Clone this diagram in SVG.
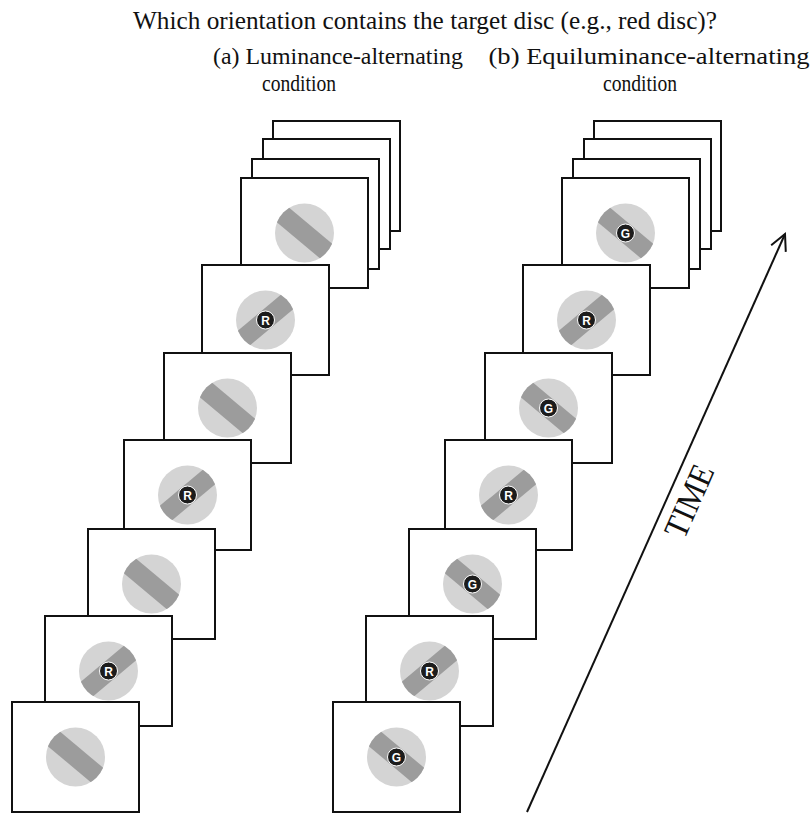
<svg xmlns="http://www.w3.org/2000/svg" width="812" height="814" viewBox="0 0 812 814">
<style>
.frame{fill:#fff;stroke:#111;stroke-width:2}
.ttl{font-family:'Liberation Serif',serif;fill:#111}
.disc{fill:#d4d4d4}
.band{fill:#9c9c9c}
.dot{fill:#1c1c1c;stroke:#fff;stroke-width:1}
.lt{font-family:'Liberation Sans',sans-serif;font-weight:bold;font-size:12px;fill:#fff;text-anchor:middle}
.arrow{fill:none;stroke:#111;stroke-width:2}
</style>
<defs>
<clipPath id="dc"><circle cx="0" cy="0" r="29.5"/></clipPath>
<g id="discA"><circle class="disc" r="29.5"/><g clip-path="url(#dc)"><rect class="band" x="-45" y="-9.5" width="90" height="19" transform="rotate(40)"/></g></g>
<g id="discB"><circle class="disc" r="29.5"/><g clip-path="url(#dc)"><rect class="band" x="-45" y="-9.5" width="90" height="19" transform="rotate(-40)"/></g></g>
<marker id="head" markerWidth="20" markerHeight="20" refX="17" refY="10" orient="auto" markerUnits="userSpaceOnUse"><path d="M1,2 L17,10 L1,18" fill="none" stroke="#111" stroke-width="2"/></marker>
</defs>

<g id="title">
<text class="ttl" x="425" y="29" font-size="26" text-anchor="middle" textLength="584" lengthAdjust="spacingAndGlyphs">Which orientation contains the target disc (e.g., red disc)?</text>
<text class="ttl" x="338" y="64" font-size="24" text-anchor="middle" textLength="250" lengthAdjust="spacingAndGlyphs">(a) Luminance-alternating</text>
<text class="ttl" x="299" y="91" font-size="24" text-anchor="middle" textLength="74" lengthAdjust="spacingAndGlyphs">condition</text>
<text class="ttl" x="649" y="64" font-size="24" text-anchor="middle" textLength="321" lengthAdjust="spacingAndGlyphs">(b) Equiluminance-alternating</text>
<text class="ttl" x="640" y="91" font-size="24" text-anchor="middle" textLength="74" lengthAdjust="spacingAndGlyphs">condition</text>
</g>

<g id="stack-a">
<g id="a10"><rect class="frame" x="273" y="121" width="127" height="110"/></g>
<g id="a9"><rect class="frame" x="263" y="139" width="127" height="110"/></g>
<g id="a8"><rect class="frame" x="252" y="159" width="127" height="110"/></g>
<g id="a7"><rect class="frame" x="241" y="178" width="127" height="110"/><use href="#discA" x="304.5" y="233"/></g>
<g id="a6"><rect class="frame" x="202" y="265" width="127" height="110"/><use href="#discB" x="265.5" y="320"/><circle class="dot" cx="265.5" cy="320" r="9"/><text class="lt" x="265.5" y="324.5">R</text></g>
<g id="a5"><rect class="frame" x="164" y="353" width="127" height="110"/><use href="#discA" x="227.5" y="408"/></g>
<g id="a4"><rect class="frame" x="124" y="440" width="127" height="110"/><use href="#discB" x="187.5" y="495"/><circle class="dot" cx="187.5" cy="495" r="9"/><text class="lt" x="187.5" y="499.5">R</text></g>
<g id="a3"><rect class="frame" x="88" y="529" width="127" height="110"/><use href="#discA" x="151.5" y="584"/></g>
<g id="a2"><rect class="frame" x="45" y="616" width="127" height="110"/><use href="#discB" x="108.5" y="671"/><circle class="dot" cx="108.5" cy="671" r="9"/><text class="lt" x="108.5" y="675.5">R</text></g>
<g id="a1"><rect class="frame" x="12" y="702" width="127" height="110"/><use href="#discA" x="75.5" y="757"/></g>
</g>

<g id="stack-b">
<g id="b10"><rect class="frame" x="594" y="121" width="127" height="110"/></g>
<g id="b9"><rect class="frame" x="584" y="139" width="127" height="110"/></g>
<g id="b8"><rect class="frame" x="573" y="159" width="127" height="110"/></g>
<g id="b7"><rect class="frame" x="562" y="178" width="127" height="110"/><use href="#discA" x="625.5" y="233"/><circle class="dot" cx="625.5" cy="233" r="9"/><text class="lt" x="625.5" y="237.5">G</text></g>
<g id="b6"><rect class="frame" x="523" y="265" width="127" height="110"/><use href="#discB" x="586.5" y="320"/><circle class="dot" cx="586.5" cy="320" r="9"/><text class="lt" x="586.5" y="324.5">R</text></g>
<g id="b5"><rect class="frame" x="485" y="353" width="127" height="110"/><use href="#discA" x="548.5" y="408"/><circle class="dot" cx="548.5" cy="408" r="9"/><text class="lt" x="548.5" y="412.5">G</text></g>
<g id="b4"><rect class="frame" x="445" y="440" width="127" height="110"/><use href="#discB" x="508.5" y="495"/><circle class="dot" cx="508.5" cy="495" r="9"/><text class="lt" x="508.5" y="499.5">R</text></g>
<g id="b3"><rect class="frame" x="409" y="529" width="127" height="110"/><use href="#discA" x="472.5" y="584"/><circle class="dot" cx="472.5" cy="584" r="9"/><text class="lt" x="472.5" y="588.5">G</text></g>
<g id="b2"><rect class="frame" x="366" y="616" width="127" height="110"/><use href="#discB" x="429.5" y="671"/><circle class="dot" cx="429.5" cy="671" r="9"/><text class="lt" x="429.5" y="675.5">R</text></g>
<g id="b1"><rect class="frame" x="333" y="702" width="127" height="110"/><use href="#discA" x="396.5" y="757"/><circle class="dot" cx="396.5" cy="757" r="9"/><text class="lt" x="396.5" y="761.5">G</text></g>
</g>

<g id="connectors">
<line class="arrow" x1="527" y1="812" x2="785" y2="234" marker-end="url(#head)"/>
</g>
<g id="time-label">
<text class="ttl" font-size="34" text-anchor="middle" dominant-baseline="central" textLength="76" lengthAdjust="spacingAndGlyphs" transform="translate(689,501) rotate(-66)">TIME</text>
</g>
</svg>
